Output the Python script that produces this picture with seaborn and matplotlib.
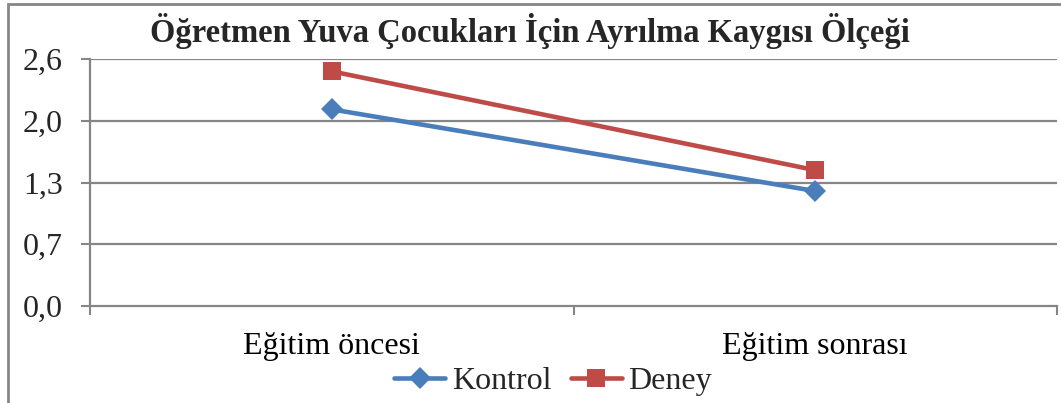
import matplotlib
matplotlib.use("Agg")
import matplotlib.pyplot as plt
import seaborn as sns
import pandas as pd
from matplotlib.patches import Rectangle
from matplotlib.ticker import FixedLocator
from matplotlib.lines import Line2D

title = "Öğretmen Yuva Çocukları İçin Ayrılma Kaygısı Ölçeği"
categories = ["Eğitim öncesi", "Eğitim sonrası"]
kontrol = [2.07, 1.21]
deney = [2.47, 1.43]
series_names = ["Kontrol", "Deney"]
y_ticks = [0.0, 0.65, 1.3, 1.95, 2.6]
y_labels = ["0,0", "0,7", "1,3", "2,0", "2,6"]

sns.set_theme(style="white")
plt.rcParams['font.family'] = ['Liberation Serif', 'DejaVu Serif']

df = pd.DataFrame({
    "Dönem": categories * 2,
    "Değer": kontrol + deney,
    "Grup": [series_names[0]] * 2 + [series_names[1]] * 2,
})

W, H = 1061, 403
fig = plt.figure(figsize=(W / 100, H / 100), dpi=100)
ax = fig.add_axes([90 / W, 1 - 306 / H, (1057 - 90) / W, (306 - 59) / H])

grid_c = "#868686"
palette = {"Kontrol": "#4A7EBB", "Deney": "#BE4B48"}
markers = {"Kontrol": "D", "Deney": "s"}
msize = {"Kontrol": 11, "Deney": 12.5}
sns.lineplot(data=df, x="Dönem", y="Değer", hue="Grup", style="Grup",
             palette=palette, markers=markers, dashes=False, sort=False,
             linewidth=3.3, markersize=12.5, markeredgewidth=0, ax=ax,
             legend=False, zorder=3)
for line in ax.lines:
    if line.get_marker() == "D":
        line.set_markersize(msize["Kontrol"])

ax.set_xlim(-0.5, 1.5)
ax.set_ylim(0, 2.6)
ax.set_yticks(y_ticks)
ax.set_yticklabels(y_labels)
ax.set_xticks([0, 1])
ax.set_xticklabels(categories)
ax.xaxis.set_minor_locator(FixedLocator([-0.5, 0.5, 1.5]))
ax.tick_params(axis="x", which="major", length=0, pad=19, labelsize=23, colors="black")
ax.tick_params(axis="x", which="minor", length=6.5, width=1.5, color=grid_c, bottom=True)
ax.tick_params(axis="y", which="major", length=6.5, width=1.5, color=grid_c, left=True,
               labelsize=23, pad=13)
ax.set_xlabel("")
ax.set_ylabel("")
for yv in y_ticks[1:]:
    ax.axhline(yv, color=grid_c, linewidth=1.6, zorder=1)
for s in ["top", "right"]:
    ax.spines[s].set_visible(False)
for s in ["left", "bottom"]:
    ax.spines[s].set_color(grid_c)
    ax.spines[s].set_linewidth(1.6)

fig.text(530 / W, 1 - 31 / H, title, ha="center", va="center",
         fontsize=23.5, fontweight="bold")

handles = [Line2D([], [], color=palette[n], marker=markers[n], linewidth=3.3,
                  markersize=msize[n], markeredgewidth=0)
           for n in series_names]
fig.legend(handles, series_names, loc="center", bbox_to_anchor=(553 / W, 1 - 381 / H),
           ncol=2, frameon=False, fontsize=23, handlelength=1.6, handletextpad=0.2,
           columnspacing=0.6, borderpad=0)

fig.add_artist(Rectangle((8 / W, -0.05), 1.1, 1 - 4 / H + 0.05, transform=fig.transFigure,
                         fill=False, edgecolor=grid_c, linewidth=2))

fig.savefig("out.png", dpi=100)
